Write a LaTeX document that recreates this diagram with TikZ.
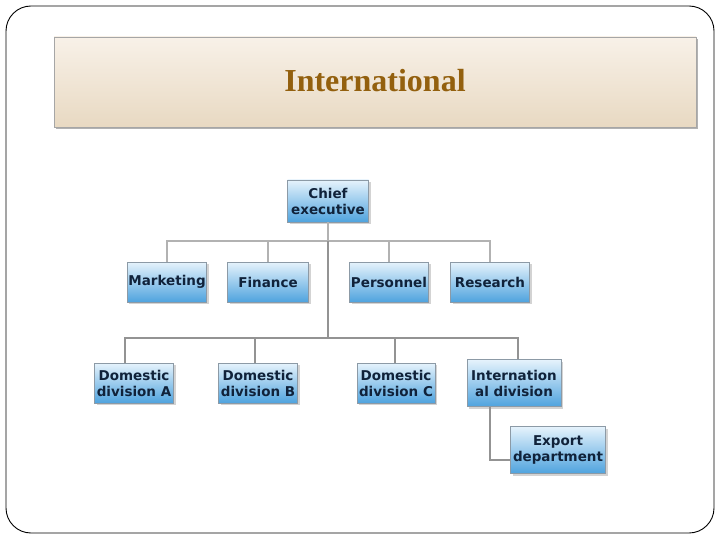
\documentclass[tikz,border=0pt]{standalone}
\usepackage{fontspec}
\setmainfont{Liberation Serif}
\newfontfamily\boxfont{DejaVu Sans}
\usetikzlibrary{shadows}
\definecolor{titletxt}{HTML}{93600E}
\definecolor{creamtop}{HTML}{F8F1E8}
\definecolor{creambot}{HTML}{E8D9C2}
\definecolor{bluetop}{HTML}{E6F3FC}
\definecolor{bluebot}{HTML}{4FA3DE}
\definecolor{boxedge}{HTML}{8C9AA6}
\definecolor{txtdark}{HTML}{10223A}
\tikzset{
  orgbox/.style={draw=boxedge, line width=0.8pt, top color=bluetop, bottom color=bluebot,
    minimum width=79pt, minimum height=40pt, inner sep=1pt, align=center,
    font=\boxfont\bfseries\fontsize{13.5}{16}\selectfont, text=txtdark,
    drop shadow={shadow xshift=2pt, shadow yshift=-2pt, opacity=0.35, fill=gray}},
  upline/.style={draw=gray!60, line width=2.4pt},
  lowline/.style={draw=gray!85, line width=1.3pt}
}
\begin{document}
\begin{tikzpicture}[x=1pt,y=-1pt]
\useasboundingbox (0,0) rectangle (720,540);
\draw[line width=0.9pt, rounded corners=25pt] (6,6) rectangle (714,533);
% title
\fill[gray!60] (56,39) rectangle (698,129);
\shade[top color=creamtop, bottom color=creambot, draw=gray!70] (54,37) rectangle (696,127);
\node[font=\bfseries\fontsize{32}{36}\selectfont, text=titletxt] (title) at (375,81) {International};
% coordinates
\coordinate (hub1) at (328,241);
\coordinate (hub2) at (328,338);
\node[orgbox, minimum width=81pt, minimum height=42pt] (ceo) at (328,201) {Chief\\executive};
\node[orgbox] (mkt) at (167,282) {Marketing};
\node[orgbox, minimum width=81pt] (fin) at (268,282) {Finance};
\node[orgbox] (per) at (389,282) {Personnel};
\node[orgbox] (res) at (490,282) {Research};
\node[orgbox] (da) at (134,383) {Domestic\\division A};
\node[orgbox] (db) at (258,383) {Domestic\\division B};
\node[orgbox, minimum width=78pt] (dc) at (396,383) {Domestic\\division C};
\node[orgbox, minimum width=94pt, minimum height=47pt] (intl) at (514,383) {Internation\\al division};
\node[orgbox, minimum width=95pt, minimum height=47pt] (exp) at (558,450) {Export\\department};
\draw[upline] (ceo.south) -- (hub1);
\draw[upline] (mkt.north) -- (mkt.north |- hub1) -- (res.north |- hub1) -- (res.north);
\draw[upline] (fin.north) -- (fin.north |- hub1);
\draw[upline] (per.north) -- (per.north |- hub1);
\draw[lowline] (hub1) -- (hub2);
\coordinate (daj) at (125,338);
\coordinate (dbj) at (255,338);
\coordinate (dcj) at (395,338);
\coordinate (intj) at (518,338);
\draw[lowline] (daj |- da.north) -- (daj) -- (intj) -- (intj |- intl.north);
\draw[lowline] (dbj) -- (dbj |- db.north);
\draw[lowline] (dcj) -- (dcj |- dc.north);
\coordinate (ej) at (490,460);
\draw[lowline] (ej |- intl.south) -- (ej) -- (ej -| exp.west);
\end{tikzpicture}
\end{document}
